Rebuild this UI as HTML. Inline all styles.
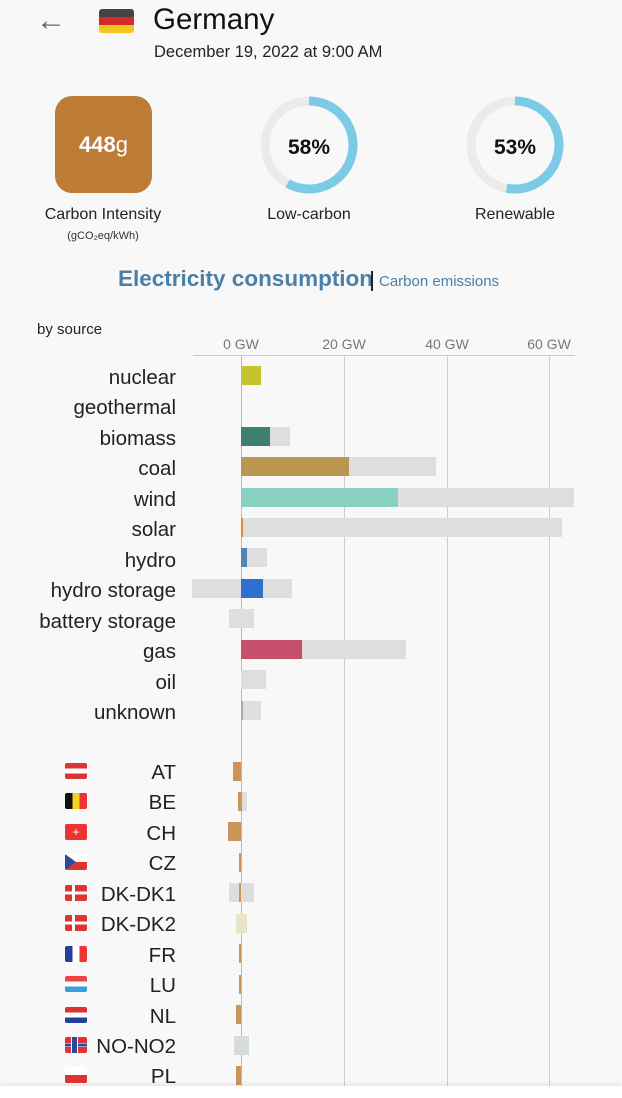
<!DOCTYPE html>
<html><head><meta charset="utf-8"><style>
body{margin:0;width:622px;height:1098px;background:#f8f8f8;font-family:"Liberation Sans",sans-serif;overflow:hidden;position:relative}
.a{position:absolute}
.lab{position:absolute;right:446px;font-size:20.5px;color:#222;text-align:right;white-space:nowrap;transform:translateY(-50%);margin-top:2px}
.b{position:absolute;height:19px}
.g{background:#dedede}
.tick{position:absolute;top:336px;font-size:14px;color:#777;transform:translateX(-50%)}
.vl{position:absolute;top:355px;width:1px;height:743px;background:#ccc}
.fl{position:absolute;left:65px;width:22px;height:16px;border-radius:2px;transform:translateY(-50%);overflow:hidden}
</style></head><body>
<div class="a" style="left:36px;top:4px;font-size:30px;color:#666">&#8592;</div>
<div class="a" style="left:99px;top:9px;width:35px;height:24px;border-radius:3px;overflow:hidden;background:linear-gradient(#444 0 33%,#d42a2a 33% 66%,#f2c61d 66%)"></div>
<div class="a" style="left:153px;top:3px;font-size:29.5px;color:#111">Germany</div>
<div class="a" style="left:154px;top:43px;font-size:16.5px;color:#222">December 19, 2022 at 9:00 AM</div>
<div class="a" style="left:55px;top:96px;width:97px;height:97px;border-radius:17px;background:#bd7b35;color:#fff;font-size:22px;font-weight:bold;text-align:center;line-height:97px">448<span style="font-weight:normal">g</span></div>
<div class="a" style="left:0;width:206px;top:206px;text-align:center;font-size:16px;color:#222">Carbon Intensity</div>
<div class="a" style="left:0;width:206px;top:230px;text-align:center;font-size:11px;color:#333">(gCO₂eq/kWh)</div>
<svg class="a" style="left:258px;top:94px" width="102" height="102"><circle cx="51" cy="51" r="44" fill="none" stroke="#ebebeb" stroke-width="9"/><circle cx="51" cy="51" r="44" fill="none" stroke="#7ccbe6" stroke-width="9" stroke-dasharray="160.3 300" transform="rotate(-90 51 51)"/><text x="51" y="60" text-anchor="middle" font-size="21" font-weight="bold" font-family="Liberation Sans" fill="#111">58%</text></svg>
<svg class="a" style="left:464px;top:94px" width="102" height="102"><circle cx="51" cy="51" r="44" fill="none" stroke="#ebebeb" stroke-width="9"/><circle cx="51" cy="51" r="44" fill="none" stroke="#7ccbe6" stroke-width="9" stroke-dasharray="146.5 300" transform="rotate(-90 51 51)"/><text x="51" y="60" text-anchor="middle" font-size="21" font-weight="bold" font-family="Liberation Sans" fill="#111">53%</text></svg>
<div class="a" style="left:209px;width:200px;top:206px;text-align:center;font-size:16px;color:#222">Low-carbon</div>
<div class="a" style="left:415px;width:200px;top:206px;text-align:center;font-size:16px;color:#222">Renewable</div>
<div class="a" style="left:118px;top:266px;font-size:22.5px;font-weight:bold;color:#4a7fa8">Electricity consumption</div>
<div class="a" style="left:371px;top:271px;width:2px;height:20px;background:#222"></div>
<div class="a" style="left:379px;top:273px;font-size:15px;color:#4a7fa8">Carbon emissions</div>
<div class="a" style="left:37px;top:321px;font-size:15px;color:#222">by source</div>
<div class="tick" style="left:241px">0 GW</div><div class="tick" style="left:344px">20 GW</div><div class="tick" style="left:447px">40 GW</div><div class="tick" style="left:549px">60 GW</div>
<div class="a" style="left:193px;top:355px;width:382px;height:1px;background:#ccc"></div>
<div class="vl" style="left:241px;background:#bbb"></div><div class="vl" style="left:344px"></div><div class="vl" style="left:447px"></div><div class="vl" style="left:549px"></div>
<div class="lab" style="top:376px">nuclear</div>
<div class="lab" style="top:406px">geothermal</div>
<div class="lab" style="top:437px">biomass</div>
<div class="lab" style="top:467px">coal</div>
<div class="lab" style="top:498px">wind</div>
<div class="lab" style="top:528px">solar</div>
<div class="lab" style="top:559px">hydro</div>
<div class="lab" style="top:589px">hydro storage</div>
<div class="lab" style="top:620px">battery storage</div>
<div class="lab" style="top:650px">gas</div>
<div class="lab" style="top:681px">oil</div>
<div class="lab" style="top:711px">unknown</div>
<div class="b" style="left:241px;top:366px;width:20px;background:#c4c42c"></div>
<div class="b g" style="left:241px;top:427px;width:49px"></div><div class="b" style="left:241px;top:427px;width:29px;background:#3d8070"></div>
<div class="b g" style="left:241px;top:457px;width:195px"></div><div class="b" style="left:241px;top:457px;width:108px;background:#bb9650"></div>
<div class="b g" style="left:241px;top:488px;width:333px"></div><div class="b" style="left:241px;top:488px;width:157px;background:#8ad0c0"></div>
<div class="b g" style="left:241px;top:518px;width:321px"></div><div class="b" style="left:241px;top:518px;width:2px;background:#e08a3a"></div>
<div class="b g" style="left:241px;top:548px;width:26px"></div><div class="b" style="left:241px;top:548px;width:6px;background:#4f86b8"></div>
<div class="b g" style="left:192px;top:579px;width:100px"></div><div class="b" style="left:241px;top:579px;width:22px;background:#2e6fd0"></div>
<div class="b g" style="left:229px;top:609px;width:25px"></div>
<div class="b g" style="left:241px;top:640px;width:165px"></div><div class="b" style="left:241px;top:640px;width:61px;background:#c6506c"></div>
<div class="b g" style="left:241px;top:670px;width:25px"></div>
<div class="b g" style="left:241px;top:701px;width:20px"></div><div class="b" style="left:241px;top:701px;width:2px;background:#aaa"></div>
<div class="lab" style="top:771px">AT</div><div class="lab" style="top:801px">BE</div><div class="lab" style="top:832px">CH</div><div class="lab" style="top:862px">CZ</div><div class="lab" style="top:893px">DK-DK1</div><div class="lab" style="top:923px">DK-DK2</div><div class="lab" style="top:954px">FR</div><div class="lab" style="top:984px">LU</div><div class="lab" style="top:1015px">NL</div><div class="lab" style="top:1045px">NO-NO2</div><div class="lab" style="top:1075px">PL</div>
<div class="fl" style="top:771px;background:linear-gradient(#d33 0 33%,#fff 33% 66%,#d33 66%)"></div>
<div class="fl" style="top:801px;background:linear-gradient(90deg,#111 0 33%,#f5d020 33% 66%,#e33 66%)"></div>
<div class="fl" style="top:832px;background:#e33;color:#fff;font-size:12px;text-align:center;line-height:16px">+</div>
<div class="fl" style="top:862px;background:linear-gradient(#fff 0 50%,#d33 50%)"><div style="width:0;height:0;border-top:8px solid transparent;border-bottom:8px solid transparent;border-left:11px solid #2b4a9a"></div></div>
<div class="fl" style="top:893px;background:linear-gradient(#d33 0 40%,#fff 40% 60%,#d33 60%)"><div style="position:absolute;left:7px;width:3px;height:16px;background:#fff"></div></div>
<div class="fl" style="top:923px;background:linear-gradient(#d33 0 40%,#fff 40% 60%,#d33 60%)"><div style="position:absolute;left:7px;width:3px;height:16px;background:#fff"></div></div>
<div class="fl" style="top:954px;background:linear-gradient(90deg,#23409a 0 33%,#fff 33% 66%,#e33 66%)"></div>
<div class="fl" style="top:984px;background:linear-gradient(#e44 0 33%,#fff 33% 66%,#3aa0dc 66%)"></div>
<div class="fl" style="top:1015px;background:linear-gradient(#d33 0 33%,#fff 33% 66%,#23409a 66%)"></div>
<div class="fl" style="top:1045px;background:linear-gradient(#d33 0 38%,#fff 38% 42%,#2b4a9a 42% 58%,#fff 58% 62%,#d33 62%)"><div style="position:absolute;left:6px;width:5px;height:16px;background:#2b4a9a;border-left:1px solid #fff;border-right:1px solid #fff"></div></div>
<div class="fl" style="top:1075px;background:linear-gradient(#fff 0 50%,#d33 50%)"></div>
<div class="b" style="left:233px;top:762px;width:8px;background:#c9955a"></div>
<div class="b g" style="left:238px;top:792px;width:9px"></div><div class="b" style="left:238px;top:792px;width:4px;background:#c9955a"></div>
<div class="b" style="left:228px;top:822px;width:13px;background:#c9955a"></div>
<div class="b" style="left:239px;top:853px;width:2px;background:#c9955a"></div>
<div class="b g" style="left:229px;top:883px;width:25px"></div><div class="b" style="left:239px;top:883px;width:2px;background:#c9955a"></div>
<div class="b" style="left:236px;top:914px;width:11px;background:#e8e4c8"></div>
<div class="b" style="left:239px;top:944px;width:2px;background:#c9955a"></div>
<div class="b" style="left:239px;top:975px;width:2px;background:#c9955a"></div>
<div class="b" style="left:236px;top:1005px;width:5px;background:#c9955a"></div>
<div class="b" style="left:234px;top:1036px;width:15px;background:#d6dcd8"></div>
<div class="b" style="left:236px;top:1066px;width:5px;background:#c9955a"></div>
<div class="a" style="left:0;top:1086px;width:622px;height:12px;background:#fff;box-shadow:0 -2px 4px rgba(0,0,0,.08)"></div>
</body></html>
